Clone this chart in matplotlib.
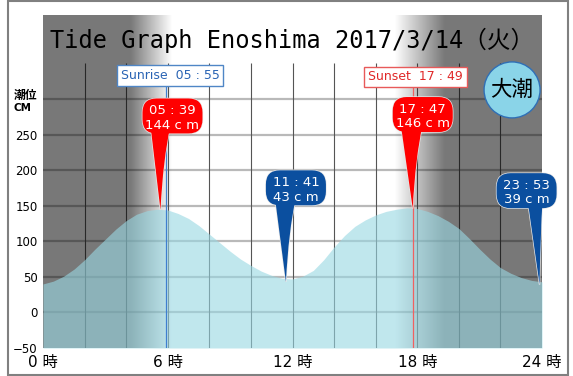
import numpy as np
import matplotlib
matplotlib.use("Agg")
import matplotlib.pyplot as plt
from matplotlib.patches import FancyBboxPatch, PathPatch, Circle, Rectangle
from matplotlib.path import Path
from matplotlib import transforms

plt.rcParams['font.family'] = ['DejaVu Sans', 'Noto Sans CJK JP']

# tide level every half hour (cm)
HOURS = [0, 0.5, 1, 1.5, 2, 2.5, 3, 3.5, 4, 4.5, 5, 5.5, 6, 6.5, 7, 7.5, 8, 8.5,
         9, 9.5, 10, 10.5, 11, 11.5, 12, 12.5, 13, 13.5, 14, 14.5, 15, 15.5, 16,
         16.5, 17, 17.5, 18, 18.5, 19, 19.5, 20, 20.5, 21, 21.5, 22, 22.5, 23,
         23.5, 24]
LEVEL = [40, 44, 51, 61, 74, 89, 103, 117, 129, 138, 143, 145, 144, 139, 132,
         122, 110, 98, 86, 75, 66, 58, 52, 48, 47, 51, 59, 74, 92, 108, 121, 130,
         137, 142, 145, 147, 146, 142, 136, 128, 118, 104, 89, 75, 63, 55, 49,
         45, 43]

EXT_TIME = ["05:39", "11:41", "17:47", "23:53"]
EXT_LEVEL = [144, 43, 146, 39]
EXT_KIND = ["high", "low", "high", "low"]
SUNRISE = "05:55"
SUNSET = "17:49"
YTICKS = [-50, 0, 50, 100, 150, 200, 250]
XTICKS = [0, 6, 12, 18, 24]
TITLE = "Tide Graph Enoshima 2017/3/14（火）"
TIDE_NAME = "大潮"


def hrs(s):
    h, m = s.split(":")
    return int(h) + int(m) / 60


W, H = 573, 376
fig = plt.figure(figsize=(W / 100, H / 100), dpi=100)
fig.add_artist(Rectangle((8 / W, 1 / H), 560 / W, 374 / H, transform=fig.transFigure,
                         fill=False, ec="#808080", lw=1.5))
ax = fig.add_axes([43 / W, 28 / H, 499 / W, 333 / H])
for s in ax.spines.values():
    s.set_visible(False)

# grid
ax.hlines(range(0, 301, 50), 0, 24, color="#b9b9b9", lw=1.6, zorder=1)
ax.vlines(range(2, 23, 2), -50, 350, color="#555555", lw=0.8, zorder=1.1)

# night shading with twilight gradients
sr, ss = hrs(SUNRISE), hrs(SUNSET)
tt = np.linspace(0, 24, 1200)
dark = np.clip((sr + 0.3 - tt) / 2.0, 0, 1) + np.clip((tt - (ss - 0.9)) / 2.4, 0, 1)
rgba = np.zeros((1, tt.size, 4))
rgba[..., 3] = 0.53 * np.clip(dark, 0, 1)
ax.imshow(rgba, extent=[0, 24, -50, 418], aspect="auto", zorder=2,
          interpolation="bilinear")

# tide
ax.fill_between(HOURS, LEVEL, -50, color=(153 / 255, 216 / 255, 227 / 255),
                alpha=0.61, lw=0, zorder=3)

# sunrise / sunset markers
ax.vlines(sr, -50, 320, color="#3f7fd0", lw=0.9, zorder=4)
ax.vlines(ss, -50, 320, color="#f06060", lw=0.9, zorder=4)
ax.annotate(f"Sunrise  {SUNRISE.replace(':', ' : ')}", (sr, 333), xytext=(4, 0),
            textcoords="offset pixels", ha="center", va="center", fontsize=9,
            color="#2a64b4", zorder=6,
            bbox=dict(boxstyle="square,pad=0.3", fc="white", ec="#4f86c6", lw=1))
ax.annotate(f"Sunset  {SUNSET.replace(':', ' : ')}", (ss, 331), xytext=(2, 0),
            textcoords="offset pixels", ha="center", va="center", fontsize=9,
            color="#e02828", zorder=6,
            bbox=dict(boxstyle="square,pad=0.3", fc="white", ec="#e85a5a", lw=1))


def balloon(t, v, color, label, dx, tl, tr_, dy=94, w=60, h=35, r=14):
    trans = transforms.Affine2D() + transforms.ScaledTranslation(t, v, ax.transData)
    ytop = dy - h / 2 + 8
    tail = Path([(tl, ytop), (tl * 0.45, ytop * 0.45), (0, 0),
                 (tr_ * 0.25, ytop * 0.6), (tr_, ytop), (tl, ytop)],
                [Path.MOVETO, Path.CURVE3, Path.CURVE3, Path.CURVE3, Path.CURVE3,
                 Path.CLOSEPOLY])
    for z, ec in ((7, "#e8e8e8"), (7.1, "none")):
        ax.add_patch(FancyBboxPatch((dx - w / 2 + r, dy - h / 2 + r), w - 2 * r, h - 2 * r,
                                    boxstyle=f"round,pad={r},rounding_size={r}",
                                    fc=color, ec=ec, lw=1, transform=trans, zorder=z,
                                    clip_on=False))
        ax.add_patch(PathPatch(tail, fc=color, ec=ec, lw=1, transform=trans, zorder=z,
                               clip_on=False))
    ax.annotate(label, (t, v), xytext=(dx, dy - 2), textcoords="offset pixels",
                ha="center", va="center", color="white", fontsize=9.5,
                linespacing=1.15, zorder=8)


layout = [(12, -10, 10), (10, -11, 10), (10, -12, 10), (-13, -12, 3)]
for tm, lv, kind, (dx, tl, tr_) in zip(EXT_TIME, EXT_LEVEL, EXT_KIND, layout):
    col = "#ff0000" if kind == "high" else "#0b4f9f"
    balloon(hrs(tm), lv, col, f"{tm.replace(':', ' : ')}\n{lv} c m", dx, tl, tr_)

# title and tide name
ax.text(12, 383, TITLE, ha="center", va="center", fontsize=17,
        family=["DejaVu Sans Mono", "Noto Sans CJK JP"], color="black", zorder=6)
ctrans = transforms.Affine2D() + transforms.ScaledTranslation(0.94, 0.775, ax.transAxes)
ax.add_patch(Circle((0, 0), 28, fc="#8ad4e8", ec="#2f6fb6", lw=1, transform=ctrans,
                    zorder=6, clip_on=False))
ax.annotate(TIDE_NAME, (0.94, 0.775), xycoords="axes fraction", ha="center",
            va="center", fontsize=15.5, family="Noto Sans CJK JP", zorder=7)

# axes
ax.set_xlim(0, 24)
ax.set_ylim(-50, 418)
ax.set_yticks(YTICKS)
ax.set_xticks(XTICKS, [f"{h} 時" for h in XTICKS])
ax.tick_params(axis="y", length=0, pad=4, labelsize=8.5)
ax.tick_params(axis="x", length=0, pad=5, labelsize=11)
fig.text(14 / W, 1 - 95 / H, "潮位", fontsize=8.5, weight="bold", ha="left", va="center",
         family="Noto Sans CJK JP")
fig.text(14 / W, 1 - 108 / H, "CM", fontsize=7.5, weight="bold", ha="left", va="center")

fig.savefig("out.png", dpi=100)
